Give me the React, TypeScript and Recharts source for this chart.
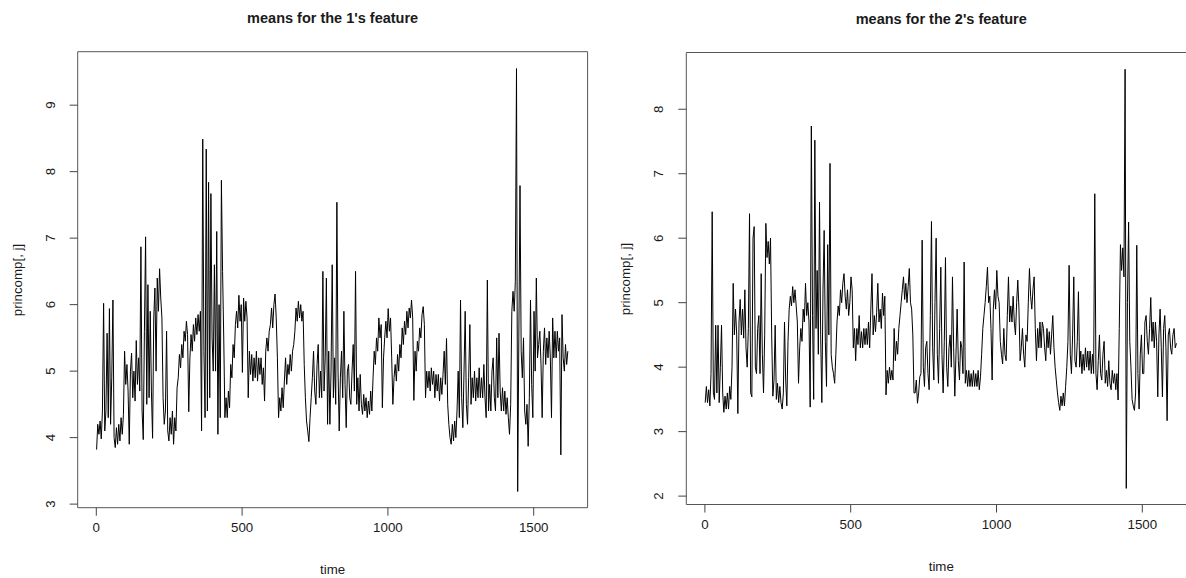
import React from 'react';
import { LineChart, Line, XAxis, YAxis, ReferenceArea } from 'recharts';

// one reading every STEP time units
const STEP = 4;

const feature1 = [
  3.82, 4.2, 4.05, 4.25, 3.98, 4.4, 6.02, 4.1, 4.4, 5.57,
  4.3, 5.94, 4.2, 4.9, 6.07, 4.0, 3.85, 4.15, 3.9, 4.2,
  3.95, 4.3, 4.05, 4.35, 5.3, 4.8, 5.1, 4.7, 3.9, 5.0,
  5.27, 4.6, 5.0, 4.55, 5.46, 4.8, 5.2, 4.7, 6.87, 4.4,
  3.97, 5.6, 7.02, 4.5, 6.3, 4.6, 5.9, 4.7, 3.99, 5.8,
  6.25, 5.0, 6.4, 5.9, 6.54, 6.1, 5.8, 4.6, 4.2, 4.4,
  5.6, 4.1, 3.95, 4.3, 4.05, 4.4, 3.9, 4.3, 4.1, 4.75,
  4.9, 5.25, 5.05, 5.4, 5.2, 5.6, 5.45, 5.75, 5.55, 4.39,
  5.2, 5.55, 5.3, 5.7, 5.45, 5.8, 5.55, 5.85, 5.6, 5.9,
  4.1, 8.49, 5.3, 4.3, 8.34, 4.4, 7.84, 4.6, 7.67, 5.5,
  5.0, 6.6, 5.0, 7.1, 4.05, 6.0, 4.3, 7.87, 6.5, 5.5,
  4.3, 4.6, 4.3, 4.7, 4.45, 5.1, 4.9, 5.4, 5.2, 5.7,
  5.9, 5.65, 6.14, 5.75, 6.0, 4.98, 6.1, 5.75, 6.05, 5.8,
  4.6, 5.3, 4.95, 5.25, 4.85, 5.2, 4.9, 5.3, 4.85, 5.2,
  4.95, 5.2, 4.8, 5.05, 4.55, 5.3, 5.5, 5.3, 5.6, 5.7,
  5.95, 5.65, 6.0, 6.16, 5.8, 5.2, 4.3, 4.6, 4.4, 4.75,
  4.45, 4.85, 5.2, 4.8, 5.1, 4.95, 5.25, 5.0, 5.3, 5.4,
  5.6, 5.95, 5.75, 6.05, 5.8, 6.0, 5.75, 5.9, 5.1, 4.6,
  4.25, 4.1, 3.94, 4.3, 4.6, 4.9, 5.3, 4.7, 4.5, 5.1,
  5.4, 4.6, 5.0, 4.6, 6.5, 4.7, 5.2, 6.4, 4.2, 5.3,
  4.2, 5.0, 6.6, 4.6, 5.2, 4.5, 7.54, 5.0, 4.1, 4.9,
  5.3, 4.6, 5.9, 4.8, 4.15, 5.0, 5.1, 4.6, 4.5, 5.0,
  5.4, 4.7, 6.5, 4.5, 4.9, 4.4, 4.95, 4.5, 4.35, 4.65,
  4.4, 4.6, 4.3, 4.55, 4.35, 4.7, 4.4, 4.9, 5.3, 5.1,
  5.5, 5.3, 5.8, 5.5, 5.7, 4.45, 5.2, 5.5, 5.75, 5.5,
  5.94, 5.6, 5.8, 5.2, 4.5, 4.9, 5.1, 4.85, 5.25, 5.0,
  5.4, 5.2, 5.65, 5.4, 5.75, 5.55, 5.9, 5.65, 5.95, 5.8,
  6.07, 5.8, 4.56, 5.3, 5.0, 5.45, 5.3, 5.65, 5.5, 5.85,
  5.97, 5.7, 4.6, 5.0, 4.75, 5.0, 4.7, 5.05, 4.8, 5.0,
  4.6, 4.95, 4.7, 4.95, 4.55, 4.9, 4.65, 4.95, 5.3, 4.8,
  5.49, 4.5, 4.2, 4.0, 3.9, 4.2, 3.95, 4.25, 4.0, 4.4,
  5.0, 4.3, 6.07, 4.6, 4.15, 5.0, 5.9, 4.5, 4.2, 4.9,
  5.7, 4.5, 4.9, 4.6, 5.0, 4.55, 4.9, 4.6, 5.05, 4.6,
  4.9, 4.6, 5.1, 4.6, 4.3, 6.37, 4.4, 4.8, 4.4, 5.0,
  5.2, 4.6, 4.4, 5.5, 4.6, 5.57, 4.7, 4.4, 4.75, 4.4,
  4.7, 4.35, 4.6, 4.3, 4.05, 4.5, 5.9, 6.2, 5.9, 6.35,
  9.55, 3.19, 5.5, 7.79, 5.3, 4.9, 5.5, 4.4, 4.2, 4.5,
  3.87, 4.6, 6.07, 4.8, 4.3, 5.9, 5.0, 6.4, 5.2, 5.4,
  5.6, 5.1, 4.3, 5.3, 5.65, 5.1, 5.5, 5.2, 5.6, 5.2,
  4.3, 5.8, 5.2, 5.6, 5.2, 5.6, 5.3, 5.5, 3.74, 5.85,
  5.2, 5.0, 5.4, 5.1, 5.3,
];

const feature2 = [
  3.45, 3.7, 3.45, 3.65, 3.4, 3.9, 6.41, 3.6, 3.5, 4.65,
  3.6, 4.65, 3.45, 4.0, 4.65, 3.6, 3.3, 3.55, 3.35, 3.6,
  3.35, 3.7, 3.5, 4.0, 5.3, 4.5, 4.9, 4.5, 3.28, 4.7,
  5.05, 4.5, 4.9, 4.45, 5.2, 4.3, 4.0, 4.6, 6.38, 3.6,
  3.54, 6.0, 6.18, 4.0, 3.9, 4.6, 4.8, 3.9, 5.45, 4.2,
  3.6, 4.5, 6.23, 5.7, 5.95, 5.6, 6.0, 4.5, 3.55, 3.8,
  4.65, 3.5, 3.75, 3.45, 3.7, 3.45, 3.35, 3.6, 4.7, 3.8,
  3.4, 4.4, 4.9, 5.1, 4.95, 5.25, 5.0, 5.2, 4.95, 4.7,
  3.75, 4.3, 4.6, 4.4, 4.9, 4.7, 5.3, 4.8, 5.0, 4.7,
  3.38, 7.74, 4.8, 3.5, 7.52, 4.6, 5.5, 4.2, 6.56, 4.5,
  3.45, 5.2, 6.12, 4.4, 3.7, 5.9, 4.5, 7.16, 4.2, 4.0,
  3.9, 3.75, 4.2, 4.7, 4.95, 4.8, 5.2, 5.0, 5.3, 5.45,
  5.1, 4.9, 5.2, 4.8, 5.0, 5.4, 5.2, 4.3, 4.6, 4.1,
  4.6, 4.35, 4.8, 4.3, 4.55, 4.3, 4.6, 4.35, 4.6, 4.35,
  4.7, 4.3, 4.9, 5.45, 4.5, 4.8, 4.55, 4.85, 5.3, 4.7,
  4.9, 4.6, 5.15, 4.8, 5.1, 3.57, 3.95, 3.75, 4.0, 3.8,
  3.95, 3.8, 4.6, 4.1, 4.4, 4.2, 4.6, 4.8, 5.0, 5.2,
  5.4, 5.05, 5.3, 5.0, 5.25, 5.53, 5.0, 4.9, 4.5, 3.6,
  3.6, 3.8, 3.44, 3.6, 3.85, 3.9, 5.97, 4.0, 3.7, 4.3,
  4.4, 3.9, 3.65, 4.8, 6.26, 4.3, 3.8, 5.0, 6.0, 4.2,
  3.75, 4.6, 5.55, 4.2, 3.6, 4.4, 5.7, 4.0, 3.7, 4.3,
  4.5, 4.0, 5.4, 4.3, 3.55, 4.2, 4.9, 4.1, 3.8, 4.4,
  4.3, 3.9, 5.63, 3.75, 3.95, 3.7, 3.95, 3.7, 3.9, 3.7,
  3.95, 3.7, 3.9, 3.7, 3.95, 3.65, 3.85, 4.2, 4.6, 4.8,
  5.0, 5.25, 5.55, 5.0, 5.1, 4.6, 3.8, 4.9, 5.2, 4.9,
  5.5, 5.1, 5.0, 4.4, 4.2, 4.05, 4.6, 4.2, 4.1, 4.8,
  5.4, 4.7, 4.95, 4.7, 5.1, 4.7, 4.5, 5.0, 5.35, 4.9,
  4.1, 4.3, 4.6, 4.2, 4.0, 4.5, 4.4, 5.0, 5.53, 5.1,
  4.9, 5.2, 5.4, 4.6, 4.1, 4.6, 4.3, 4.7, 4.3, 4.7,
  4.6, 4.3, 4.1, 4.6, 4.3, 4.55, 4.2, 4.5, 4.8, 4.3,
  4.0, 3.8, 3.6, 3.45, 3.33, 3.55, 3.4, 3.6, 3.4, 3.7,
  4.0, 4.4, 5.58, 4.2, 3.9, 4.5, 5.4, 4.1, 4.0, 4.4,
  5.17, 4.0, 4.25, 3.9, 4.2, 3.95, 4.3, 4.0, 4.25, 3.95,
  4.25, 3.9, 4.2, 3.9, 6.69, 3.9, 3.65, 4.1, 4.5, 3.9,
  3.8, 4.2, 4.4, 3.75, 3.95, 3.7, 4.1, 3.75, 3.65, 3.95,
  3.75, 3.9, 3.65, 3.9, 3.49, 4.6, 5.9, 5.5, 5.85, 5.4,
  8.62, 2.12, 5.0, 6.25, 4.4, 4.0, 3.5, 3.4, 3.33, 3.6,
  5.89, 3.9, 3.35, 4.2, 4.5, 3.9, 3.9, 4.7, 4.8, 4.4,
  4.2, 4.6, 5.08, 4.4, 4.7, 4.3, 4.7, 4.4, 3.54, 4.5,
  4.9, 4.3, 3.54, 4.6, 4.8, 4.3, 3.17, 4.5, 4.6, 4.3,
  4.2, 4.5, 4.6, 4.3, 4.37,
];

const timeTicks = [0, 500, 1000, 1500];
const ticks1 = [3, 4, 5, 6, 7, 8, 9];
const ticks2 = [2, 3, 4, 5, 6, 7, 8];
const titles = ["means for the 1's feature", "means for the 2's feature"];

const FONT = '"Liberation Sans", Arial, sans-serif';
const TEXT = '#1a1a1a';
const X_DOMAIN: [number, number] = [-63.8, 1684.8];
const Y_W = 60;
const X_H = 40;
const PANEL_W = 610;
const PANEL_H = 578;

const toRows = (values: number[]) => values.map((v, i) => ({ time: 1 + i * STEP, value: v }));

const YTick = ({ x, y, payload }: any) => (
  <text
    x={x}
    y={y}
    transform={`rotate(-90, ${x}, ${y})`}
    textAnchor="middle"
    fontSize={13.3}
    fill={TEXT}
    fontFamily={FONT}
  >
    {payload.value}
  </text>
);

interface PanelProps {
  left: number;
  values: number[];
  yDomain: [number, number];
  yTicks: number[];
  title: string;
  plot: { left: number; top: number; width: number; height: number };
}

const Panel: React.FC<PanelProps> = ({ left, values, yDomain, yTicks, title, plot }) => {
  const data = toRows(values);
  const margin = {
    top: plot.top,
    left: plot.left - Y_W,
    right: PANEL_W - plot.left - plot.width,
    bottom: PANEL_H - plot.top - plot.height - X_H,
  };
  const cx = plot.left + plot.width / 2;
  const cy = plot.top + plot.height / 2;
  const label: React.CSSProperties = {
    position: 'absolute',
    fontFamily: FONT,
    fontSize: 13.3,
    color: TEXT,
    whiteSpace: 'nowrap',
    lineHeight: 1,
  };

  return (
    <div style={{ position: 'absolute', left, top: 0, width: PANEL_W, height: PANEL_H }}>
      <LineChart width={PANEL_W} height={PANEL_H} data={data} margin={margin}>
        <XAxis
          dataKey="time"
          type="number"
          domain={X_DOMAIN}
          allowDataOverflow
          ticks={timeTicks}
          interval={0}
          axisLine={false}
          tickLine={{ stroke: '#444' }}
          tickSize={8}
          tickMargin={7}
          height={X_H}
          tick={{ fontSize: 13.3, fill: TEXT, fontFamily: FONT }}
        />
        <YAxis
          type="number"
          domain={yDomain}
          allowDataOverflow
          ticks={yTicks}
          interval={0}
          axisLine={false}
          tickLine={{ stroke: '#444' }}
          tickSize={8}
          tickMargin={15}
          width={Y_W}
          tick={<YTick />}
        />
        <ReferenceArea
          x1={X_DOMAIN[0]}
          x2={X_DOMAIN[1]}
          y1={yDomain[0]}
          y2={yDomain[1]}
          fill="none"
          fillOpacity={0}
          stroke="#555"
          strokeWidth={1}
          ifOverflow="visible"
        />
        <Line
          type="linear"
          dataKey="value"
          stroke="#000"
          strokeWidth={1}
          dot={false}
          isAnimationActive={false}
        />
      </LineChart>
      <div style={{ ...label, left: cx, top: plot.top - 34, transform: 'translate(-50%, -50%)', fontWeight: 'bold', fontSize: 14.5 }}>
        {title}
      </div>
      <div style={{ ...label, left: cx, top: plot.top + plot.height + 62, transform: 'translate(-50%, -50%)' }}>
        time
      </div>
      <div style={{ ...label, left: plot.left - 60, top: cy, transform: 'translate(-50%, -50%) rotate(-90deg)' }}>
        princomp[, j]
      </div>
    </div>
  );
};

export default function App() {
  return (
    <div style={{ position: 'absolute', left: 0, top: 0, width: 1186, height: 578, overflow: 'hidden', background: '#fff' }}>
      <Panel
        left={0}
        values={feature1}
        yDomain={[2.946, 9.804]}
        yTicks={ticks1}
        title={titles[0]}
        plot={{ left: 77.7, top: 51.7, width: 509.9, height: 456 }}
      />
      <Panel
        left={600}
        values={feature2}
        yDomain={[1.87, 8.88]}
        yTicks={ticks2}
        title={titles[1]}
        plot={{ left: 86.3, top: 52.5, width: 509.9, height: 452 }}
      />
    </div>
  );
}
